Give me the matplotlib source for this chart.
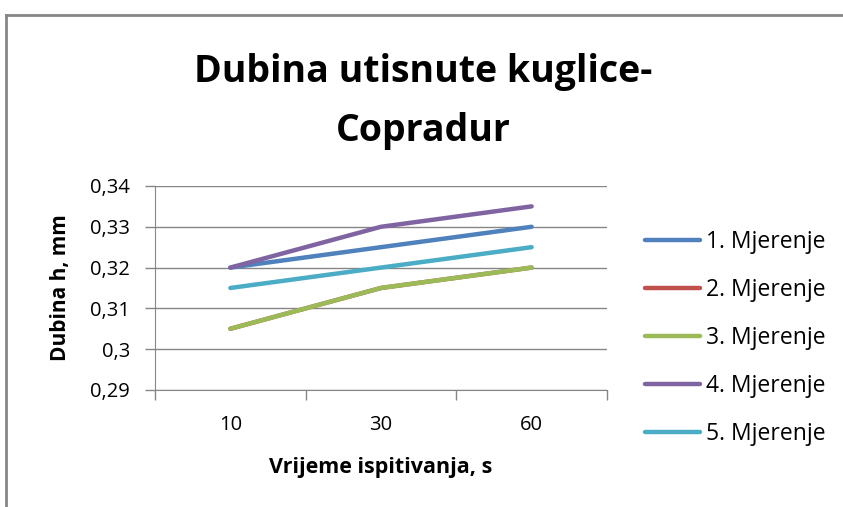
import matplotlib.pyplot as plt
from matplotlib.lines import Line2D
from matplotlib.ticker import FuncFormatter

vrijeme = ["10", "30", "60"]
serije = ["1. Mjerenje", "2. Mjerenje", "3. Mjerenje", "4. Mjerenje", "5. Mjerenje"]
mj1 = [0.32, 0.325, 0.33]
mj2 = [0.305, 0.315, 0.32]
mj3 = [0.305, 0.315, 0.32]
mj4 = [0.32, 0.33, 0.335]
mj5 = [0.315, 0.32, 0.325]
boje = ["#4F81BD", "#C0504D", "#9BBB59", "#8064A2", "#4BACC6"]

plt.rcParams['font.family'] = ['Open Sans', 'DejaVu Sans']

fig = plt.figure(figsize=(8.43, 5.07), dpi=100)
ax = fig.add_axes([0.1839, 0.2308, 0.5361, 0.4024])

x = list(range(len(vrijeme)))
for ime, vals, c in zip(serije, [mj1, mj2, mj3, mj4, mj5], boje):
    ax.plot(x, vals, color=c, lw=3.2, label=ime, solid_capstyle='round')

ax.set_ylim(0.29, 0.34)
ax.set_yticks([0.29, 0.30, 0.31, 0.32, 0.33, 0.34])
ax.yaxis.set_major_formatter(FuncFormatter(lambda v, p: ("%g" % round(v, 3)).replace(".", ",")))
ax.set_xlim(-0.5, 2.5)
ax.set_xticks([-0.5, 0.5, 1.5, 2.5])
ax.set_xticklabels([])
ax.set_xticks(x, minor=True)
ax.set_xticklabels(vrijeme, minor=True)
ax.tick_params(axis='x', which='minor', length=0, pad=18, labelsize=14.5)
ax.tick_params(axis='x', which='major', length=7, color='#868686', width=1)
ax.tick_params(axis='y', length=7, color='#868686', width=1, labelsize=14.5, pad=11)

ax.grid(axis='y', color='#868686', lw=1)
ax.set_axisbelow(True)
for s in ['top', 'right']:
    ax.spines[s].set_visible(False)
for s in ['left', 'bottom']:
    ax.spines[s].set_color('#868686')

ax.set_xlabel("Vrijeme ispitivanja, s", fontsize=15.5, fontweight='bold', labelpad=16)
ax.set_ylabel("Dubina h, mm", fontsize=15, fontweight='bold', labelpad=14)

fig.text(0.502, 0.80, "Dubina utisnute kuglice-\nCopradur", ha='center', va='center',
         fontsize=27, fontweight='bold', linespacing=1.72)

ax.legend(loc='center left', bbox_to_anchor=(1.084, 0.255), frameon=False,
          borderpad=0, borderaxespad=0,
          fontsize=16.5, handlelength=2.4, handletextpad=0.25, labelspacing=1.05)

fig.add_artist(Line2D([6 / 843, 1], [1 - 15 / 507, 1 - 15 / 507], color='#868686', lw=2))
fig.add_artist(Line2D([6 / 843, 6 / 843], [0, 1 - 15 / 507], color='#868686', lw=2))

fig.savefig("out.png", dpi=100)
